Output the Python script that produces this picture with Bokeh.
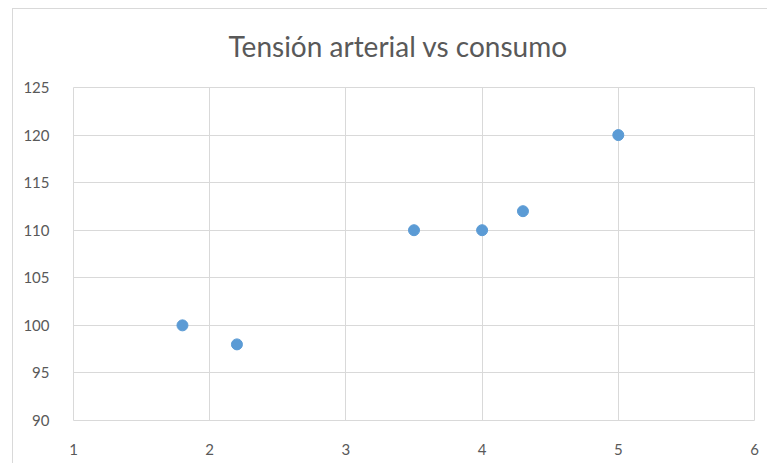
from bokeh.plotting import figure
from bokeh.models import FixedTicker
from bokeh.embed import file_html
from bokeh.resources import INLINE

title_text = "Tensión arterial vs consumo"
consumo = [1.8, 2.2, 3.5, 4.0, 4.3, 5.0]
tension = [100, 98, 110, 110, 112, 120]
x_ticks = [1, 2, 3, 4, 5, 6]
y_ticks = [90, 95, 100, 105, 110, 115, 120, 125]

GRID = "#d9d9d9"
TXT = "#595959"
FONT = "Lato"

p = figure(width=767, height=463, output_backend="svg", toolbar_location=None,
           x_range=(1, 6), y_range=(90, 125),
           min_border_left=73, min_border_right=13, min_border_top=87, min_border_bottom=43)
p.background_fill_color = "white"
p.border_fill_color = None
p.outline_line_color = GRID
p.styles = {
    "background": ("linear-gradient(#d9d9d9, #d9d9d9) 12px 8px / 1px 100% no-repeat, "
                   "linear-gradient(#d9d9d9, #d9d9d9) 12px 8px / 100% 1px no-repeat, white"),
}

p.title.text = title_text
p.title.text_font = FONT
p.title.text_font_size = "28px"
p.title.text_font_style = "normal"
p.title.text_color = TXT
p.title.align = "left"
p.title.offset = 155
p.title.standoff = 49

for ax in (p.xaxis[0], p.yaxis[0]):
    ax.axis_line_color = None
    ax.major_tick_line_color = None
    ax.minor_tick_line_color = None
    ax.major_label_text_font = FONT
    ax.major_label_text_font_size = "15px"
    ax.major_label_text_color = TXT

p.xaxis.ticker = FixedTicker(ticks=x_ticks)
p.yaxis.ticker = FixedTicker(ticks=y_ticks)
p.xaxis.major_label_standoff = 17
p.yaxis.major_label_standoff = 18

p.xgrid.ticker = FixedTicker(ticks=x_ticks)
p.ygrid.ticker = FixedTicker(ticks=y_ticks)
p.grid.grid_line_color = GRID
p.grid.grid_line_width = 1

p.scatter(consumo, tension, size=11, color="#5b9bd5", line_color="#5b9bd5")

open("out.html", "w").write(file_html(p, INLINE))
